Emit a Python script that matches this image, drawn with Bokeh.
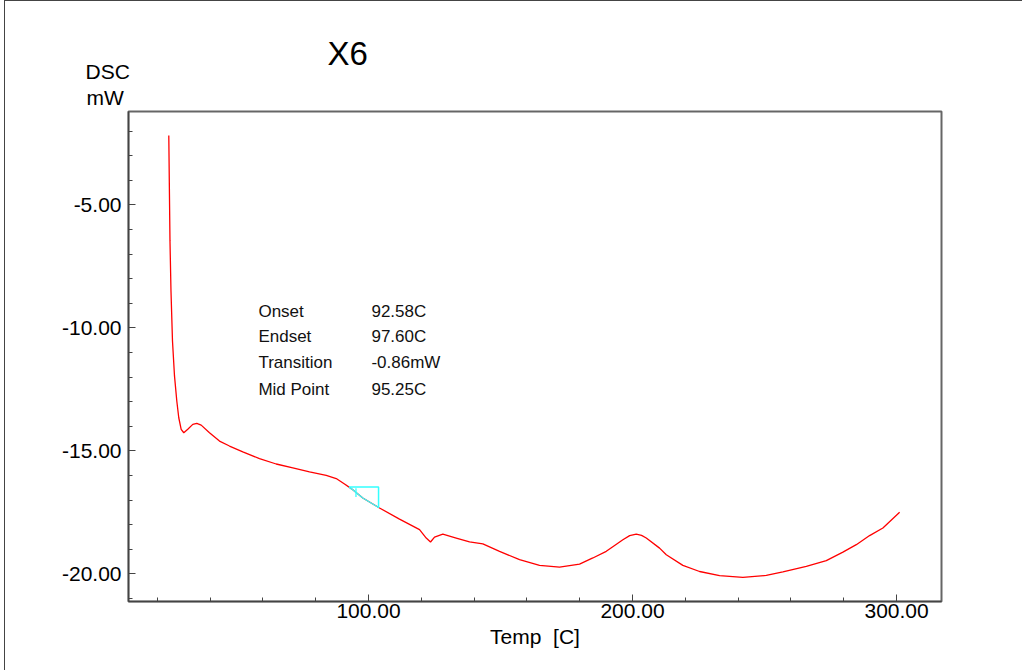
from bokeh.plotting import figure
from bokeh.models import (Range1d, FixedTicker, PrintfTickFormatter, Label, Title,
                          ColumnDataSource)
from bokeh.embed import file_html
from bokeh.resources import INLINE
import numpy as np

# ---- data ----
temp_c = [24.36, 24.55, 24.81, 25.19, 25.76, 26.52, 27.39, 28.14, 29.05, 30.04,
          31.55, 33.45, 34.96, 36.63, 39.77, 43.56, 47.35, 52.39, 58.71, 65.04,
          71.33, 77.65, 83.98, 87.77, 90.91, 93.45, 97.84, 104.17, 111.74,
          119.32, 121.86, 123.48, 125.00, 128.14, 133.22, 138.26, 143.30, 149.62,
          157.20, 164.77, 172.35, 179.92, 184.96, 190.04, 193.20, 196.33, 198.90,
          201.40, 203.40, 205.19, 210.23, 212.77, 219.05, 225.38, 232.95, 241.78,
          250.64, 256.93, 265.80, 273.37, 279.66, 284.73, 289.77, 294.81, 301.14]
dsc_mw = [-2.18, -4.01, -6.46, -8.50, -10.53, -11.95, -12.97, -13.65, -14.12, -14.26,
          -14.12, -13.92, -13.88, -13.95, -14.26, -14.60, -14.80, -15.04, -15.31, -15.53,
          -15.69, -15.85, -15.99, -16.12, -16.34, -16.53, -16.91, -17.32, -17.77,
          -18.20, -18.54, -18.70, -18.50, -18.38, -18.54, -18.70, -18.78, -19.08,
          -19.42, -19.65, -19.72, -19.60, -19.35, -19.08, -18.84, -18.61, -18.44,
          -18.38, -18.43, -18.54, -18.95, -19.22, -19.65, -19.90, -20.07, -20.14,
          -20.06, -19.92, -19.69, -19.46, -19.11, -18.81, -18.44, -18.13, -17.49]

# analysis box (onset / right edge) and mid-point marker
box_x = [92.58, 103.8, 103.8]
box_y = [-16.47, -16.47, -17.32]
mid_x = [95.25, 95.25]
mid_y = [-16.52, -16.87]

info_labels = ["Onset", "Endset", "Transition", "Mid Point"]
info_values = ["92.58C", "97.60C", "-0.86mW", "95.25C"]

x_major = [100, 200, 300]
x_minor = [20, 40, 60, 80, 120, 140, 160, 180, 220, 240, 260, 280]
y_major = [-20, -15, -10, -5]
y_minor = [-21, -19, -18, -17, -16, -14, -13, -12, -11, -9, -8, -7, -6, -4, -3, -2]

FONT = "Liberation Sans"

p = figure(width=1018, height=670, output_backend="svg", toolbar_location=None,
           x_range=Range1d(9.1, 317.0), y_range=Range1d(-21.12, -1.20),
           min_border_left=123, min_border_right=82, min_border_top=110,
           min_border_bottom=70)
p.styles = {"border-left": "1.5px solid #444444", "border-top": "1.5px solid #444444",
            "margin-left": "4px"}
p.background_fill_color = "white"
p.border_fill_color = "white"
p.outline_line_color = "#666666"
p.outline_line_width = 2
p.grid.visible = False

for ax in (p.xaxis[0], p.yaxis[0]):
    ax.axis_line_color = "#444444"
    ax.axis_line_width = 1.5
    ax.major_tick_in = 7
    ax.major_tick_out = 0
    ax.minor_tick_in = 4
    ax.minor_tick_out = 0
    ax.major_tick_line_color = "#444444"
    ax.minor_tick_line_color = "#444444"
    ax.major_label_text_font = FONT
    ax.major_label_text_font_size = "21px"
    ax.major_label_text_color = "black"
    ax.formatter = PrintfTickFormatter(format="%.2f")

p.xaxis.ticker = FixedTicker(ticks=x_major, minor_ticks=x_minor)
p.yaxis.ticker = FixedTicker(ticks=y_major, minor_ticks=y_minor)
p.xaxis.major_label_standoff = 2
p.yaxis.major_label_standoff = 7
p.xaxis.axis_label = "Temp\u00a0 [C]"
p.xaxis.axis_label_text_font = FONT
p.xaxis.axis_label_text_font_size = "21px"
p.xaxis.axis_label_text_font_style = "normal"
p.xaxis.axis_label_text_color = "black"
p.xaxis.axis_label_standoff = 4

src = ColumnDataSource(dict(x=temp_c, y=dsc_mw))
p.line("x", "y", source=src, line_color="#ff0000", line_width=1.3)

# cyan overlay on the transition region
tx = np.array(temp_c)
ty = np.array(dsc_mw)
sel = (tx >= box_x[0]) & (tx <= box_x[1])
seg_x = [box_x[0]] + list(tx[sel]) + [box_x[1]]
seg_y = [float(np.interp(box_x[0], tx, ty))] + list(ty[sel]) + [float(np.interp(box_x[1], tx, ty))]
p.line(seg_x, seg_y, line_color="#33ffff", line_width=1.3)
p.line(box_x, box_y, line_color="#33ffff", line_width=1.5)
p.line(mid_x, mid_y, line_color="#33ffff", line_width=1.3)

# analysis table
row_y = [-9.35, -10.36, -11.42, -12.52]
for lab, val, yy in zip(info_labels, info_values, row_y):
    p.add_layout(Label(x=58.3, y=yy, text=lab, text_font=FONT, text_font_size="17px",
                       text_baseline="middle", text_align="left", text_color="#111111"))
    p.add_layout(Label(x=101.1, y=yy, text=val, text_font=FONT, text_font_size="17px",
                       text_baseline="middle", text_align="left", text_color="#111111"))

# y caption and title as stacked titles above the frame
p.add_layout(Title(text="mW", text_font=FONT, text_font_size="21px",
                   text_font_style="normal", text_color="black", align="left",
                   offset=-42, standoff=5), "above")
p.add_layout(Title(text="DSC", text_font=FONT, text_font_size="21px",
                   text_font_style="normal", text_color="black", align="left",
                   offset=-43, standoff=-2), "above")
p.title.text = "X6"
p.title.text_font = FONT
p.title.text_font_size = "33px"
p.title.text_font_style = "normal"
p.title.text_color = "black"
p.title.align = "left"
p.title.offset = 199
p.title.standoff = -26

open("out.html", "w").write(file_html(p, INLINE))
